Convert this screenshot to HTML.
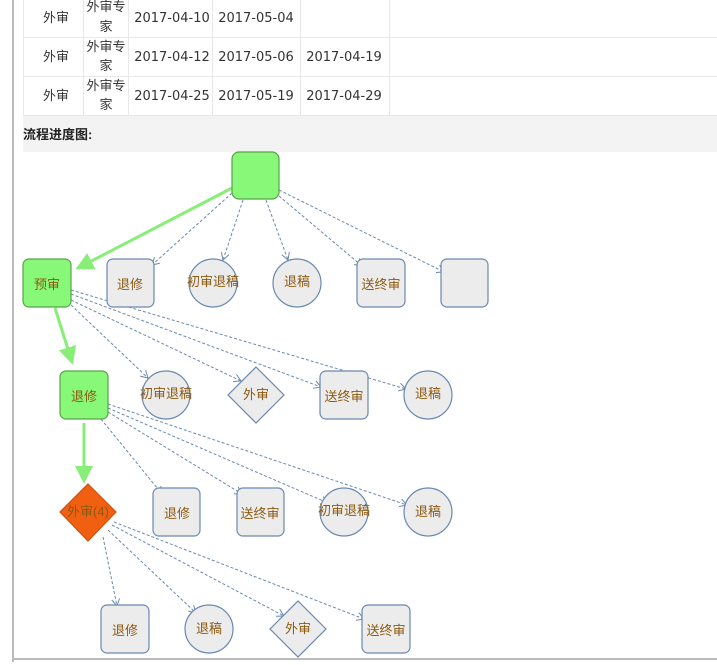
<!DOCTYPE html>
<html><head><meta charset="utf-8"><style>
html,body{margin:0;padding:0;width:717px;height:665px;overflow:hidden;background:#fff;font-family:"Liberation Sans","Noto Sans CJK SC",sans-serif;}
</style></head><body>
<div style="position:absolute;left:12px;top:0;width:2px;height:662px;background:#bbb"></div>
<div style="position:absolute;left:12px;top:658px;width:705px;height:2px;background:#bbb"></div>
<svg width="717" height="665" style="position:absolute;left:0;top:0" font-family="Liberation Sans, Noto Sans CJK SC, sans-serif">
<defs>
<marker id="g" markerWidth="6" markerHeight="6" refX="5" refY="3" orient="auto" markerUnits="strokeWidth"><path d="M0,0 L6,3 L0,6 z" fill="#88ee77"/></marker>
<marker id="d" markerWidth="10" markerHeight="10" refX="8" refY="5" orient="auto" markerUnits="userSpaceOnUse"><path d="M1,1 L8,5 L1,9" fill="none" stroke="#6a88b0" stroke-width="1"/></marker>
</defs>
<g stroke="#e8e8e8" stroke-width="1" fill="none">
<line x1="23" y1="37.5" x2="717" y2="37.5"/><line x1="23" y1="76.5" x2="717" y2="76.5"/><line x1="23" y1="115.5" x2="717" y2="115.5"/>
<line x1="23.5" y1="0" x2="23.5" y2="115"/><line x1="83.5" y1="0" x2="83.5" y2="115"/><line x1="128.5" y1="0" x2="128.5" y2="115"/><line x1="212.5" y1="0" x2="212.5" y2="115"/><line x1="300.5" y1="0" x2="300.5" y2="115"/><line x1="389.5" y1="0" x2="389.5" y2="115"/>
</g>
<rect x="23" y="116" width="694" height="36" fill="#f3f3f3"/>
<text x="23" y="139" font-size="13" font-weight="bold" fill="#222">流程进度图:</text>
<g font-size="13" fill="#333" text-anchor="middle">
<text x="56" y="22">外审</text><text x="106" y="11">外审专</text><text x="106" y="31">家</text>
<text x="56" y="61">外审</text><text x="106" y="51">外审专</text><text x="106" y="70">家</text>
<text x="56" y="100">外审</text><text x="106" y="90">外审专</text><text x="106" y="109">家</text>
</g>
<g font-size="13" fill="#333" text-anchor="middle" font-family="DejaVu Sans, sans-serif">
<text x="172" y="22">2017-04-10</text><text x="256" y="22">2017-05-04</text>
<text x="172" y="61">2017-04-12</text><text x="256" y="61">2017-05-06</text><text x="344" y="61">2017-04-19</text>
<text x="172" y="100">2017-04-25</text><text x="256" y="100">2017-05-19</text><text x="344" y="100">2017-04-29</text>
</g>
<g stroke="#6a88b0" stroke-width="1" stroke-dasharray="3,2" fill="none" marker-end="url(#d)">
<path d="M232,193 L152,265"/><path d="M243,200 L223,260"/><path d="M266,200 L288,260"/><path d="M279,196 L362,266"/><path d="M279,190 L444,272"/>
<path d="M71,305 L148,378"/><path d="M71,300 L241,381"/><path d="M71,294 L321,387"/><path d="M71,290 L406,389"/>
<path d="M101,419 L162,494"/><path d="M108,412 L242,494"/><path d="M108,408 L328,503"/><path d="M108,404 L407,505"/>
<path d="M103,537 L117,606"/><path d="M108,530 L196,613"/><path d="M112,525 L284,616"/><path d="M114,522 L364,619"/>
</g>
<g stroke="#88ee77" stroke-width="3" fill="none" marker-end="url(#g)">
<path d="M232,188 L78,268"/><path d="M55,308 L72,362"/><path d="M84,423 L84,481"/>
</g>
<g stroke="#6a88b0" stroke-width="1.2" fill="#ececec">
<rect x="232" y="152" width="47" height="47" rx="7" fill="#88f878" stroke="#5aa04a"/>
<rect x="23" y="259" width="48" height="48" rx="6" fill="#88f878" stroke="#5aa04a"/>
<rect x="107" y="259" width="47" height="48" rx="6"/>
<circle cx="213" cy="283" r="24"/>
<circle cx="297" cy="283" r="24"/>
<rect x="357" y="259" width="48" height="48" rx="6"/>
<rect x="441" y="259" width="47" height="48" rx="6"/>
<rect x="60" y="371" width="48" height="48" rx="6" fill="#88f878" stroke="#5aa04a"/>
<circle cx="166" cy="395" r="24"/>
<path d="M256,367 L284,395 L256,423 L228,395 Z"/>
<rect x="320" y="371" width="48" height="48" rx="6"/>
<circle cx="428" cy="395" r="24"/>
<path d="M88,484 L116,512 L88,541 L60,512 Z" fill="#f06010" stroke="#d05010"/>
<rect x="153" y="488" width="47" height="48" rx="6"/>
<rect x="237" y="488" width="47" height="48" rx="6"/>
<circle cx="344" cy="512" r="24"/>
<circle cx="428" cy="512" r="24"/>
<rect x="101" y="605" width="48" height="48" rx="6"/>
<circle cx="209" cy="629" r="24"/>
<path d="M298,601 L326,629 L298,657 L270,629 Z"/>
<rect x="362" y="605" width="48" height="48" rx="6"/>
</g>
<g font-size="13" fill="#8b5a10" text-anchor="middle">
<text x="47" y="289">预审</text><text x="130" y="289">退修</text><text x="213" y="286">初审退稿</text><text x="297" y="286">退稿</text><text x="381" y="289">送终审</text>
<text x="84" y="401">退修</text><text x="166" y="398">初审退稿</text><text x="256" y="399">外审</text><text x="344" y="401">送终审</text><text x="428" y="398">退稿</text>
<text x="88" y="516">外审(4)</text><text x="177" y="518">退修</text><text x="260" y="518">送终审</text><text x="344" y="515">初审退稿</text><text x="428" y="516">退稿</text>
<text x="125" y="635">退修</text><text x="209" y="633">退稿</text><text x="298" y="633">外审</text><text x="386" y="635">送终审</text>
</g>
</svg>
</body></html>
